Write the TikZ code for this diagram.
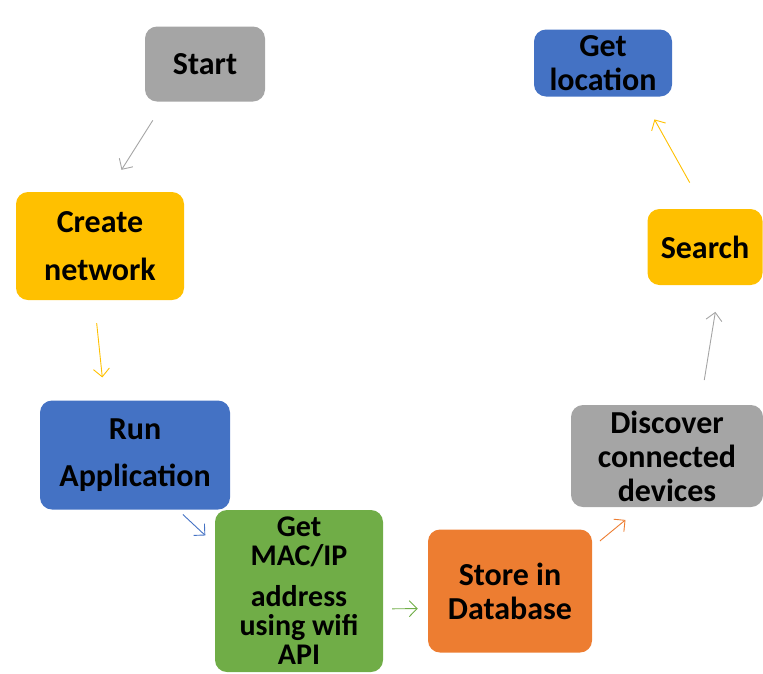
\documentclass[tikz,border=0pt]{standalone}
\usepackage{fontspec}
\setmainfont{Carlito}
\usetikzlibrary{arrows.meta}
\definecolor{boxgray}{HTML}{A5A5A5}
\definecolor{boxyellow}{HTML}{FFC000}
\definecolor{boxblue}{HTML}{4472C4}
\definecolor{boxgreen}{HTML}{70AD47}
\definecolor{boxorange}{HTML}{ED7D31}
\begin{document}
\begin{tikzpicture}[x=1pt,y=-1pt,
    box/.style={rounded corners=12pt, align=center, inner sep=0pt,
      font=\bfseries\fontsize{32}{34}\selectfont},
    arr/.style={-{Straight Barb[length=8pt,width=16pt]}, line width=0.9pt}]
  \useasboundingbox (0,0) rectangle (763,673);
  % steps
  \node[box, fill=boxgray, minimum width=120pt, minimum height=75pt] (start) at (205,64) {Start};
  \node[box, fill=boxyellow, minimum width=168pt, minimum height=108pt] (create) at (100,246)
    {Create\\[14pt]network};
  \node[box, fill=boxblue, minimum width=190pt, minimum height=109pt] (run) at (135,455)
    {Run\\[13pt]Application};
  \node[box, fill=boxgreen, minimum width=168pt, minimum height=162pt,
    font=\bfseries\fontsize{30}{29}\selectfont] (getmac) at (299,591)
    {Get\\MAC/IP\\[12pt]address\\using wifi\\API};
  \node[box, fill=boxorange, minimum width=164pt, minimum height=123pt] (store) at (510,591)
    {Store in\\Database};
  \node[box, fill=boxgray, minimum width=192pt, minimum height=102pt] (discover) at (667,456)
    {Discover\\connected\\devices};
  \node[box, fill=boxyellow, minimum width=115pt, minimum height=76pt] (search) at (705,247) {Search};
  \node[box, fill=boxblue, minimum width=138pt, minimum height=67pt] (getloc) at (603,63)
    {Get\\location};
  % arrows
  \draw[arr, boxgray, shorten <=22pt, shorten >=26pt] (start.223) -- (create.82);
  \draw[arr, boxyellow, shorten <=23pt, shorten >=23pt] (create.264) -- (run.119);
  \draw[arr, boxblue, shorten <=7pt, shorten >=13pt] (run.308) -- (getmac.151);
  \draw[arr, boxgreen, shorten <=9pt, shorten >=10pt] (getmac.348) -- (store.192);
  \draw[arr, boxorange, shorten <=10pt, shorten >=20pt] (store.28) -- (discover.243);
  \draw[arr, boxgray, shorten <=25pt, shorten >=27pt] (discover.57) -- (search.291);
  \draw[arr, boxyellow, shorten <=30pt, shorten >=26pt] (search.91) -- (getloc.319);
\end{tikzpicture}
\end{document}
